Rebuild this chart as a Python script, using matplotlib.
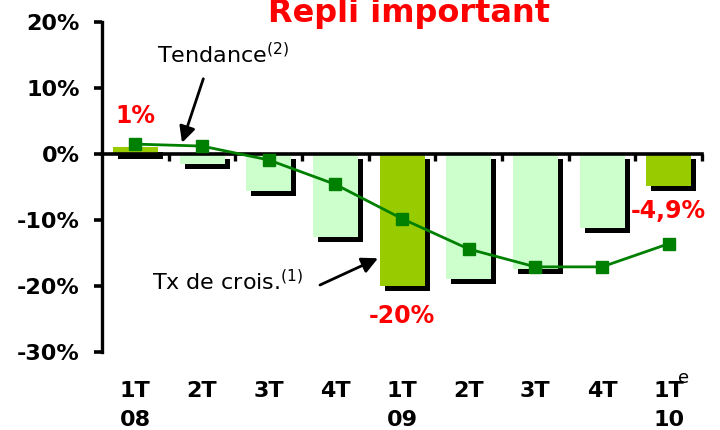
import matplotlib.pyplot as plt
import numpy as np

# données (en %)
quarters = ["1T", "2T", "3T", "4T", "1T", "2T", "3T", "4T", "1T"]
years = ["08", "", "", "", "09", "", "", "", "10"]
growth = [1.0, -1.5, -5.6, -12.6, -20.0, -18.9, -17.4, -11.2, -4.9]
trend = [1.5, 1.2, -0.9, -4.6, -9.8, -14.4, -17.1, -17.1, -13.6]
highlight = [True, False, False, False, True, False, False, False, True]
yticks = [-30, -20, -10, 0, 10, 20]
ytick_labels = ["-30%", "-20%", "-10%", "0%", "10%", "20%"]
red_labels = {0: ("1%", 5.8), 4: ("-20%", -24.5), 8: ("-4,9%", -8.6)}

light_green = "#CCFFCC"
strong_green = "#99CC00"
line_green = "#008000"
red = "#FF0000"

x = np.arange(len(growth))
bar_w = 0.675

fig = plt.figure(figsize=(7.2, 4.3), dpi=100)
ax = fig.add_axes([102 / 720, 78 / 430, 600 / 720, 330 / 430])

# ombre des barres
ax.bar(x + 0.075, growth, width=bar_w, bottom=-0.76, color="black", zorder=1)
colors = [strong_green if h else light_green for h in highlight]
ax.bar(x, growth, width=bar_w, color=colors, zorder=2)

ax.plot(x, trend, color=line_green, lw=2.0, marker="s", markersize=8,
        markerfacecolor=line_green, markeredgecolor=line_green, zorder=4)

ax.set_xlim(-0.5, 8.5)
ax.set_ylim(-30, 20)

for s in ["top", "right"]:
    ax.spines[s].set_visible(False)
ax.spines["bottom"].set_position(("data", 0))
ax.spines["bottom"].set_linewidth(2.6)
ax.spines["left"].set_linewidth(2.4)
ax.spines["bottom"].set_zorder(3)

ax.set_yticks(yticks)
ax.set_yticklabels(ytick_labels, fontsize=16, fontweight="bold")
ax.tick_params(axis="y", length=6, width=2.6, pad=10)
ax.set_xticks(np.arange(0.5, 9, 1))
ax.set_xticklabels([])
ax.tick_params(axis="x", length=5, width=2.4, direction="out")

# étiquettes des trimestres
for i, (q, yr) in enumerate(zip(quarters, years)):
    ax.text(i, -35.9, q, ha="center", va="center", fontsize=16, fontweight="bold")
    if yr:
        ax.text(i, -40.3, yr, ha="center", va="center", fontsize=16, fontweight="bold")
ax.text(8.22, -33.9, "e", ha="center", va="center", fontsize=13)

for i, (txt, yv) in red_labels.items():
    ax.text(i, yv, txt, ha="center", va="center", fontsize=17,
            fontweight="bold", color=red)

arrow = dict(arrowstyle="-|>", color="black", lw=2.0, mutation_scale=24,
             shrinkA=0, shrinkB=0)
ax.annotate("", xy=(0.70, 1.7), xytext=(1.02, 11.4), arrowprops=arrow, zorder=5)
ax.text(1.32, 15.0, r"Tendance$^{\mathregular{(2)}}$", ha="center", va="center",
        fontsize=16)

ax.annotate("", xy=(3.64, -15.8), xytext=(2.77, -19.85), arrowprops=arrow, zorder=5)
ax.text(1.38, -19.4, r"Tx de crois.$^{\mathregular{(1)}}$", ha="center", va="center",
        fontsize=16)

fig.text(0.568, 1 - 22 / 430, "Repli important", ha="center", va="baseline",
         fontsize=23, fontweight="bold", color=red)

fig.savefig("out.png", dpi=100)
